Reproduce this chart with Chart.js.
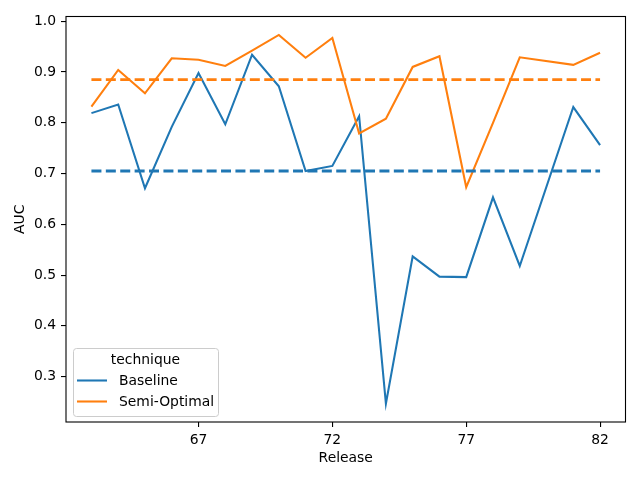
<!DOCTYPE html>
<html>
<head>
<meta charset="utf-8">
<script src="https://cdn.jsdelivr.net/npm/chart.js@4"></script>
<style>
  body { margin: 0; background: #fff; }
</style>
</head>
<body>
<canvas id="chart" width="640" height="480"></canvas>
<script>
// Data (release 80 has no value)
const releases = [63, 64, 65, 66, 67, 68, 69, 70, 71, 72, 73, 74, 75, 76, 77, 78, 79, 81, 82];
const baseline = [0.819, 0.836, 0.671, 0.792, 0.898, 0.797, 0.934, 0.872, 0.705, 0.715,
                  0.813, 0.247, 0.537, 0.497, 0.496, 0.653, 0.518, 0.831, 0.756];
const semiOptimal = [0.832, 0.904, 0.858, 0.927, 0.924, 0.912, 0.942, 0.973, 0.928, 0.967,
                     0.779, 0.808, 0.910, 0.931, 0.673, 0.800, 0.929, 0.914, 0.938];
const baselineMean = 0.705;
const semiOptimalMean = 0.885;
const seriesNames = ['Baseline', 'Semi-Optimal'];
const seriesColors = ['#1f77b4', '#ff7f0e'];
const xTicks = [67, 72, 77, 82];
const yTicks = [0.3, 0.4, 0.5, 0.6, 0.7, 0.8, 0.9, 1.0];

const FONT = 'DejaVu Sans';
const pts = (ys) => releases.map((r, i) => ({ x: r, y: ys[i] }));
const flat = (v) => [{ x: releases[0], y: v }, { x: releases[releases.length - 1], y: v }];

// frame around plot area + legend box inside
const framePlugin = {
  id: 'frame',
  afterDraw(chart) {
    const { ctx, chartArea: a } = chart;
    ctx.save();
    ctx.strokeStyle = '#000';
    ctx.lineWidth = 1.1;
    ctx.strokeRect(a.left, a.top, a.right - a.left, a.bottom - a.top);

    // legend
    const x0 = 73, y0 = 348, w = 145, h = 68;
    ctx.fillStyle = 'rgba(255,255,255,0.8)';
    ctx.strokeStyle = '#cccccc';
    ctx.lineWidth = 1;
    ctx.beginPath();
    ctx.roundRect(x0 + 0.5, y0 + 0.5, w, h, 3);
    ctx.fill();
    ctx.stroke();
    ctx.font = '13.9px "' + FONT + '"';
    ctx.fillStyle = '#000';
    ctx.textBaseline = 'middle';
    ctx.textAlign = 'center';
    ctx.fillText('technique', x0 + w / 2, y0 + 12.5);
    ctx.textAlign = 'left';
    seriesNames.forEach((name, i) => {
      const y = y0 + 32.5 + i * 21;
      ctx.strokeStyle = seriesColors[i];
      ctx.lineWidth = 2.08;
      ctx.beginPath();
      ctx.moveTo(x0 + 4, y);
      ctx.lineTo(x0 + 34, y);
      ctx.stroke();
      ctx.fillText(name, x0 + 46, y + 1);
    });
    ctx.restore();
  }
};

new Chart(document.getElementById('chart'), {
  type: 'line',
  data: {
    datasets: [
      { label: 'Baseline', data: pts(baseline), borderColor: seriesColors[0], borderWidth: 2.08, order: 3 },
      { label: 'Semi-Optimal', data: pts(semiOptimal), borderColor: seriesColors[1], borderWidth: 2.08, order: 2 },
      { label: 'Baseline mean', data: flat(baselineMean), borderColor: seriesColors[0], borderWidth: 2.9, borderDash: [10, 4.4], order: 1 },
      { label: 'Semi-Optimal mean', data: flat(semiOptimalMean), borderColor: seriesColors[1], borderWidth: 2.9, borderDash: [10, 4.4], order: 0 }
    ]
  },
  options: {
    responsive: false,
    animation: false,
    layout: { padding: { top: 16.5, right: 14.5, left: 0, bottom: 0 } },
    elements: { point: { radius: 0 }, line: { tension: 0, borderCapStyle: 'butt' } },
    plugins: { legend: { display: false }, tooltip: { enabled: false } },
    scales: {
      x: {
        type: 'linear',
        min: 62.05,
        max: 82.95,
        afterBuildTicks: (s) => { s.ticks = xTicks.map(v => ({ value: v })); },
        afterFit: (s) => { s.height = 58; },
        grid: { display: true, drawOnChartArea: false, drawTicks: true, tickLength: 5, color: '#000', lineWidth: 1.1 },
        border: { display: false },
        ticks: { color: '#000', padding: 5, font: { family: FONT, size: 13.9 }, callback: (v) => String(v) },
        title: { display: true, text: 'Release', color: '#000', font: { family: FONT, size: 13.9 }, padding: { top: 0, bottom: 13.7 } }
      },
      y: {
        min: 0.2107,
        max: 1.0093,
        afterBuildTicks: (s) => { s.ticks = yTicks.map(v => ({ value: v })); },
        afterFit: (s) => { s.width = 66; },
        grid: { display: true, drawOnChartArea: false, drawTicks: true, tickLength: 5, color: '#000', lineWidth: 1.1 },
        border: { display: false },
        ticks: { color: '#000', padding: 5, font: { family: FONT, size: 13.9 }, callback: (v) => v.toFixed(1) },
        title: { display: true, text: 'AUC', color: '#000', font: { family: FONT, size: 13.9 }, padding: { top: 11.7, bottom: 0 } }
      }
    }
  },
  plugins: [framePlugin]
});
</script>
</body>
</html>
